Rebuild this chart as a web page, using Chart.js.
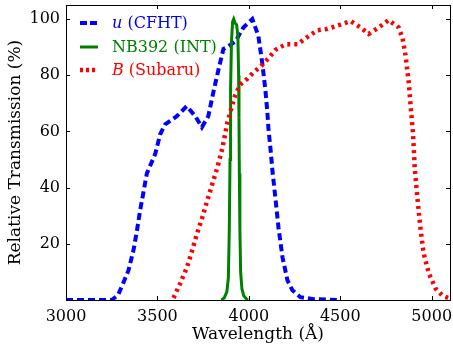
<!DOCTYPE html>
<html>
<head>
<meta charset="utf-8">
<script src="https://cdn.jsdelivr.net/npm/chart.js@4.4.1/dist/chart.umd.min.js"></script>
<style>
  html, body { margin: 0; padding: 0; background: #fff; }
  #wrap { width: 453px; height: 351px; }
</style>
</head>
<body>
<div id="wrap"><canvas id="filters"></canvas></div>
<script>
// u (CFHT) filter curve
const uWave  = [3000, 3250, 3285, 3313, 3342, 3369, 3388, 3405, 3422, 3442, 3488, 3515, 3542, 3606, 3660, 3707, 3743, 3778, 3806, 3835, 3861, 3880, 3926, 3970, 4019, 4052, 4074, 4090, 4101, 4107, 4118, 4129, 4145, 4162, 4184, 4211, 4238, 4282, 4353, 4500];
const uTrans = [0, 0, 1.8, 6, 10.6, 17.7, 24.7, 31.8, 37.8, 45, 52, 59, 62.5, 65.4, 69, 65.4, 61.5, 65.4, 74, 82.3, 89.4, 90, 92, 97, 100, 94, 84, 75, 67, 61, 54, 46, 36.4, 25.8, 15.2, 7, 3.5, 1, 0.3, 0];

// NB392 (INT) narrow band
const nbWave  = [3850, 3865, 3880, 3888, 3893, 3897, 3900, 3905, 3911, 3917, 3925, 3933, 3940, 3944, 3946, 3948, 3951, 3955, 3962, 3972, 3985, 3995];
const nbTrans = [0, 0.7, 3, 8, 25, 50, 75, 92, 99, 100, 98.5, 98, 94, 80, 65, 45, 25, 10, 4, 1.5, 0.5, 0];

// B (Subaru)
const bWave  = [3588, 3625, 3662, 3690, 3717, 3745, 3772, 3800, 3827, 3855, 3882, 3910, 3926, 3953, 3992, 4025, 4063, 4107, 4145, 4200, 4266, 4320, 4375, 4430, 4500, 4556, 4611, 4655, 4710, 4764, 4819, 4841, 4857, 4874, 4886, 4898, 4907, 4925, 4940, 4956, 4984, 5022, 5060, 5093, 5100];
const bTrans = [0.7, 6, 11.7, 17.7, 23.7, 29.3, 35.3, 41.3, 47, 54, 63, 69.6, 73, 76.7, 78.8, 81, 83, 86, 89, 91, 91, 93.6, 96, 96.5, 98, 99.3, 97, 94.7, 97, 99.6, 97, 93, 87, 77.7, 68, 59, 47, 34, 24.7, 16.6, 9.5, 4, 1.5, 0.7, 0.5];

const xTicks = [3000, 3500, 4000, 4500, 5000];
const yTicks = [20, 40, 60, 80, 100];

const serif = 'DejaVu Serif';

function toPoints(xs, ys) {
    return xs.map((x, i) => ({ x: x, y: ys[i] }));
}

// рамка и внутренние засечки как у matplotlib
const framePlugin = {
    id: 'frame',
    afterDraw(chart) {
        const { ctx, chartArea: a, scales: { x, y } } = chart;
        ctx.save();
        ctx.strokeStyle = '#000';
        ctx.lineWidth = 1;
        ctx.beginPath();
        xTicks.forEach(v => {
            const px = Math.round(x.getPixelForValue(v)) + 0.5;
            ctx.moveTo(px, a.bottom); ctx.lineTo(px, a.bottom - 4);
            ctx.moveTo(px, a.top); ctx.lineTo(px, a.top + 4);
        });
        yTicks.forEach(v => {
            const py = Math.round(y.getPixelForValue(v)) + 0.5;
            ctx.moveTo(a.left, py); ctx.lineTo(a.left + 4, py);
            ctx.moveTo(a.right, py); ctx.lineTo(a.right - 4, py);
        });
        ctx.stroke();
        ctx.strokeRect(Math.round(a.left) + 0.5, Math.round(a.top) + 0.5,
            Math.round(a.right - a.left), Math.round(a.bottom - a.top));
        ctx.restore();
    }
};

// легенда вручную, чтобы u и B были курсивом
const legendPlugin = {
    id: 'mplLegend',
    afterDraw(chart) {
        const { ctx } = chart;
        const rows = [
            { it: 'u', rest: ' (CFHT)', color: '#0000ff', dash: [7, 3], width: 4, y: 23 },
            { it: '', rest: 'NB392 (INT)', color: '#008000', dash: [], width: 3, y: 47 },
            { it: 'B', rest: ' (Subaru)', color: '#ff0000', dash: [3, 3], width: 4.5, y: 70 }
        ];
        ctx.save();
        rows.forEach(r => {
            ctx.strokeStyle = r.color;
            ctx.lineWidth = r.width;
            ctx.setLineDash(r.dash);
            ctx.beginPath();
            ctx.moveTo(80, r.y);
            ctx.lineTo(98, r.y);
            ctx.stroke();
            ctx.fillStyle = r.color;
            ctx.textBaseline = 'middle';
            let tx = 112;
            if (r.it) {
                ctx.font = 'italic 16px "' + serif + '"';
                ctx.fillText(r.it, tx, r.y + 1);
                tx += ctx.measureText(r.it).width;
            }
            ctx.font = '16px "' + serif + '"';
            ctx.fillText(r.rest, tx, r.y + 1);
        });
        ctx.restore();
    }
};

const ctx = document.getElementById('filters').getContext('2d');
new Chart(ctx, {
    type: 'line',
    data: {
        datasets: [{
            label: 'u (CFHT)',
            data: toPoints(uWave, uTrans),
            borderColor: '#0000ff',
            borderWidth: 4,
            borderDash: [7, 4],
            pointRadius: 0,
            fill: false,
            order: 3
        }, {
            label: 'NB392 (INT)',
            data: toPoints(nbWave, nbTrans),
            borderColor: '#008000',
            borderWidth: 3,
            pointRadius: 0,
            fill: false,
            order: 2
        }, {
            label: 'B (Subaru)',
            data: toPoints(bWave, bTrans),
            borderColor: '#ff0000',
            borderWidth: 4.5,
            borderDash: [3, 4],
            pointRadius: 0,
            fill: false,
            order: 1
        }]
    },
    options: {
        responsive: true,
        maintainAspectRatio: false,
        animation: false,
        layout: { padding: { top: 5, right: 3, left: 0, bottom: 0 } },
        plugins: { legend: { display: false }, tooltip: { enabled: false } },
        elements: { line: { tension: 0 } },
        scales: {
            x: {
                type: 'linear',
                min: 3000,
                max: 5100,
                afterBuildTicks: s => { s.ticks = xTicks.map(v => ({ value: v })); },
                afterFit: s => { s.height = 51; s.paddingLeft = 0; s.paddingRight = 0; },
                grid: { display: false, drawTicks: false },
                border: { display: false },
                ticks: { color: '#000', padding: 7, maxRotation: 0, callback: v => String(v), font: { family: serif, size: 16 } },
                title: { display: true, text: 'Wavelength (Å)', color: '#000', padding: { top: 0, bottom: 6 }, font: { family: serif, size: 17 } }
            },
            y: {
                min: 0,
                max: 105,
                afterBuildTicks: s => { s.ticks = yTicks.map(v => ({ value: v })); },
                afterFit: s => { s.width = 66; s.paddingTop = 0; s.paddingBottom = 0; },
                grid: { display: false, drawTicks: false },
                border: { display: false },
                ticks: { color: '#000', padding: 6, callback: v => String(v), font: { family: serif, size: 16 } },
                title: { display: true, text: 'Relative Transmission (%)', color: '#000', padding: { top: 5, bottom: 0 }, font: { family: serif, size: 17 } }
            }
        }
    },
    plugins: [framePlugin, legendPlugin]
});
</script>
</body>
</html>
